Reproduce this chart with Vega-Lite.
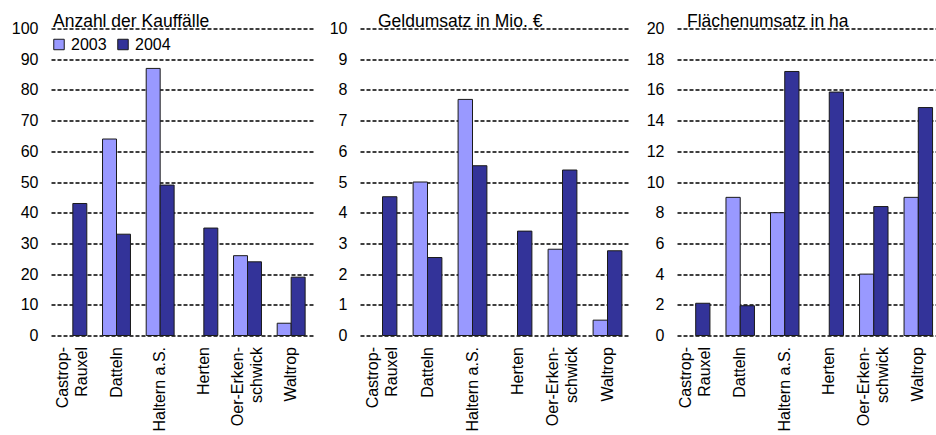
{
  "$schema": "https://vega.github.io/schema/vega-lite/v6.json",
  "padding": {"left": 11, "top": 12.5, "right": 0, "bottom": 0},
  "background": "white",
  "spacing": 16,
  "config": {
    "font": "Liberation Sans",
    "view": {"stroke": null},
    "title": {"anchor": "start", "frame": "group", "offset": 2, "baseline": "alphabetic", "fontSize": 17.5, "fontWeight": "normal", "color": "#000", "font": "Liberation Sans", "dy": 11.5},
    "axis": {"labelFont": "Liberation Sans", "labelFontSize": 16, "labelColor": "#000", "domain": false, "ticks": false, "tickSize": 0},
    "axisY": {"grid": true, "gridColor": "#000", "gridDash": [4, 2], "gridWidth": 1.3, "labelPadding": 13},
    "axisX": {"grid": false, "labelAngle": -90, "labelPadding": 11, "labelLineHeight": 19, "labelLimit": 200,
      "labelOffset": {"condition": {"test": "indexof(datum.value, '|') >= 0", "value": -9.5}, "value": 0}}
  },
  "data": {"values": [
    {"m": "A", "ort": "Castrop-|Rauxel", "jahr": "2004", "v": 43},
    {"m": "A", "ort": "Datteln", "jahr": "2003", "v": 64},
    {"m": "A", "ort": "Datteln", "jahr": "2004", "v": 33},
    {"m": "A", "ort": "Haltern a.S.", "jahr": "2003", "v": 87},
    {"m": "A", "ort": "Haltern a.S.", "jahr": "2004", "v": 49},
    {"m": "A", "ort": "Herten", "jahr": "2004", "v": 35},
    {"m": "A", "ort": "Oer-Erken-|schwick", "jahr": "2003", "v": 26},
    {"m": "A", "ort": "Oer-Erken-|schwick", "jahr": "2004", "v": 24},
    {"m": "A", "ort": "Waltrop", "jahr": "2003", "v": 4},
    {"m": "A", "ort": "Waltrop", "jahr": "2004", "v": 19},
    {"m": "G", "ort": "Castrop-|Rauxel", "jahr": "2004", "v": 4.52},
    {"m": "G", "ort": "Datteln", "jahr": "2003", "v": 5.0},
    {"m": "G", "ort": "Datteln", "jahr": "2004", "v": 2.54},
    {"m": "G", "ort": "Haltern a.S.", "jahr": "2003", "v": 7.69},
    {"m": "G", "ort": "Haltern a.S.", "jahr": "2004", "v": 5.53},
    {"m": "G", "ort": "Herten", "jahr": "2004", "v": 3.4},
    {"m": "G", "ort": "Oer-Erken-|schwick", "jahr": "2003", "v": 2.81},
    {"m": "G", "ort": "Oer-Erken-|schwick", "jahr": "2004", "v": 5.39},
    {"m": "G", "ort": "Waltrop", "jahr": "2003", "v": 0.5},
    {"m": "G", "ort": "Waltrop", "jahr": "2004", "v": 2.76},
    {"m": "F", "ort": "Castrop-|Rauxel", "jahr": "2004", "v": 2.1},
    {"m": "F", "ort": "Datteln", "jahr": "2003", "v": 9.0},
    {"m": "F", "ort": "Datteln", "jahr": "2004", "v": 1.94},
    {"m": "F", "ort": "Haltern a.S.", "jahr": "2003", "v": 8.0},
    {"m": "F", "ort": "Haltern a.S.", "jahr": "2004", "v": 17.2},
    {"m": "F", "ort": "Herten", "jahr": "2004", "v": 15.86},
    {"m": "F", "ort": "Oer-Erken-|schwick", "jahr": "2003", "v": 4.0},
    {"m": "F", "ort": "Oer-Erken-|schwick", "jahr": "2004", "v": 8.4},
    {"m": "F", "ort": "Waltrop", "jahr": "2003", "v": 9.0},
    {"m": "F", "ort": "Waltrop", "jahr": "2004", "v": 14.85}
  ]},
  "resolve": {"scale": {"color": "independent", "x": "independent", "y": "independent", "xOffset": "independent"}, "legend": {"color": "independent"}},
  "hconcat": [
    {
      "width": 262, "height": 307,
      "title": {"text": "Anzahl der Kauffälle", "dx": 2},
      "transform": [{"filter": "datum.m === 'A'"}],
      "mark": {"type": "bar", "stroke": "#1a1a1a", "strokeWidth": 1},
      "encoding": {
        "x": {"field": "ort", "type": "nominal", "sort": null, "title": null,
          "scale": {"domain": ["Castrop-|Rauxel", "Datteln", "Haltern a.S.", "Herten", "Oer-Erken-|schwick", "Waltrop"], "paddingInner": 0.36, "paddingOuter": 0.18},
          "axis": {"labelExpr": "split(datum.value, '|')"}},
        "xOffset": {"field": "jahr", "type": "nominal", "scale": {"domain": ["2003", "2004"], "paddingInner": 0, "paddingOuter": 0}},
        "y": {"field": "v", "type": "quantitative", "title": null, "scale": {"domain": [0, 100]},
          "axis": {"values": [0, 10, 20, 30, 40, 50, 60, 70, 80, 90, 100], "minExtent": 40, "maxExtent": 40}},
        "color": {"field": "jahr", "type": "nominal", "scale": {"domain": ["2003", "2004"], "range": ["#9999FF", "#333399"]},
          "legend": {"title": null, "orient": "none", "legendX": 0, "legendY": 8, "direction": "horizontal", "symbolType": "square", "symbolSize": 110, "symbolStrokeColor": "#1a1a1a", "symbolStrokeWidth": 1, "labelFontSize": 16, "labelFont": "Liberation Sans", "labelColor": "#000", "labelOffset": 4, "columnPadding": 8}}
      }
    },
    {
      "width": 270, "height": 307,
      "title": {"text": "Geldumsatz in Mio. €", "dx": 18},
      "transform": [{"filter": "datum.m === 'G'"}],
      "mark": {"type": "bar", "stroke": "#1a1a1a", "strokeWidth": 1},
      "encoding": {
        "x": {"field": "ort", "type": "nominal", "sort": null, "title": null,
          "scale": {"domain": ["Castrop-|Rauxel", "Datteln", "Haltern a.S.", "Herten", "Oer-Erken-|schwick", "Waltrop"], "paddingInner": 0.36, "paddingOuter": 0.18},
          "axis": {"labelExpr": "split(datum.value, '|')"}},
        "xOffset": {"field": "jahr", "type": "nominal", "scale": {"domain": ["2003", "2004"], "paddingInner": 0, "paddingOuter": 0}},
        "y": {"field": "v", "type": "quantitative", "title": null, "scale": {"domain": [0, 10]},
          "axis": {"values": [0, 1, 2, 3, 4, 5, 6, 7, 8, 9, 10], "minExtent": 30, "maxExtent": 30}},
        "color": {"field": "jahr", "type": "nominal", "scale": {"domain": ["2003", "2004"], "range": ["#9999FF", "#333399"]}, "legend": null}
      }
    },
    {
      "width": 260, "height": 307,
      "title": {"text": "Flächenumsatz in ha", "dx": 10},
      "transform": [{"filter": "datum.m === 'F'"}],
      "mark": {"type": "bar", "stroke": "#1a1a1a", "strokeWidth": 1},
      "encoding": {
        "x": {"field": "ort", "type": "nominal", "sort": null, "title": null,
          "scale": {"domain": ["Castrop-|Rauxel", "Datteln", "Haltern a.S.", "Herten", "Oer-Erken-|schwick", "Waltrop"], "paddingInner": 0.36, "paddingOuter": 0.1},
          "axis": {"labelExpr": "split(datum.value, '|')"}},
        "xOffset": {"field": "jahr", "type": "nominal", "scale": {"domain": ["2003", "2004"], "paddingInner": 0, "paddingOuter": 0}},
        "y": {"field": "v", "type": "quantitative", "title": null, "scale": {"domain": [0, 20]},
          "axis": {"values": [0, 2, 4, 6, 8, 10, 12, 14, 16, 18, 20], "minExtent": 30, "maxExtent": 30}},
        "color": {"field": "jahr", "type": "nominal", "scale": {"domain": ["2003", "2004"], "range": ["#9999FF", "#333399"]}, "legend": null}
      }
    }
  ]
}
